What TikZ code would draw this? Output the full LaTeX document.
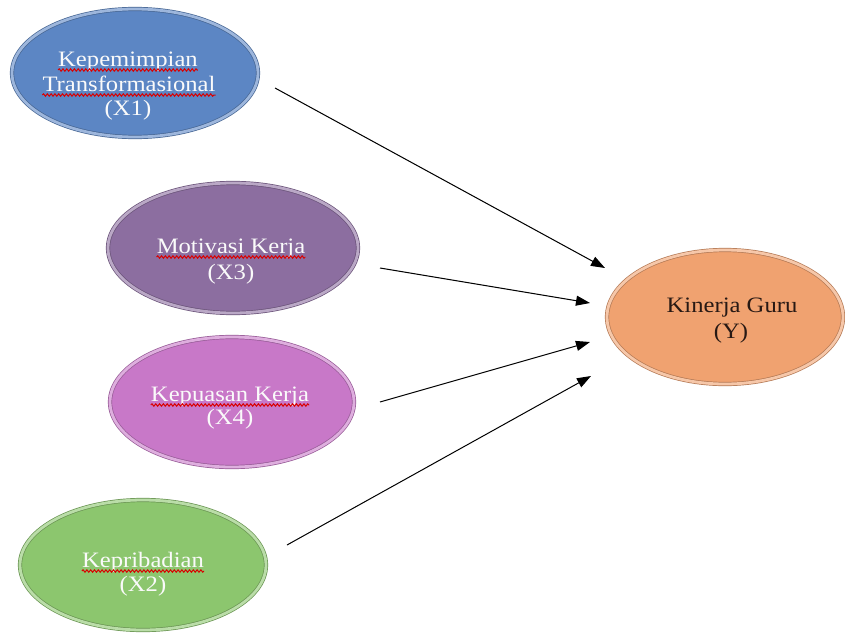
\documentclass[tikz,border=0pt]{standalone}
\usepackage{fontspec}
\usetikzlibrary{shapes.geometric,arrows.meta,decorations.pathmorphing}
\newfontfamily\lblfont[FakeStretch=1.12]{Liberation Serif}
\definecolor{cBlue}{RGB}{92,134,196}
\definecolor{cPurple}{RGB}{140,110,160}
\definecolor{cPink}{RGB}{200,120,200}
\definecolor{cGreen}{RGB}{140,198,110}
\definecolor{cOrange}{RGB}{240,162,112}
\definecolor{cDark}{RGB}{40,25,20}
\tikzset{
  oval/.style={ellipse, inner sep=0pt, fill=#1, draw=#1!75!black, line width=0.7pt,
    double=#1!60!white, double distance=2.8pt},
  lbl/.style={anchor=base, inner sep=0pt, font=\lblfont\fontsize{22}{24}\selectfont, text=white!96!gray},
  lbldark/.style={lbl, text=cDark},
  wave/.style={draw=red!85!black, line width=1pt, decorate,
    decoration={snake, segment length=3.8pt, amplitude=1.2pt}},
  conn/.style={draw=black, line width=1pt, -{Triangle[length=14pt,width=10pt]}}
}
\begin{document}
\begin{tikzpicture}[x=1pt,y=-1pt]
\path[use as bounding box, fill=white] (0,0) rectangle (845,632);

% ellipses
\node[oval=cBlue,   minimum width=246pt, minimum height=128pt] (x1) at (135,73) {};
\node[oval=cPurple, minimum width=250pt, minimum height=130pt] (x3) at (233,248) {};
\node[oval=cPink,   minimum width=244pt, minimum height=130pt] (x4) at (232,402) {};
\node[oval=cGreen,  minimum width=246pt, minimum height=130pt] (x2) at (143,565) {};
\node[oval=cOrange, minimum width=236pt, minimum height=134pt] (y)  at (725,317) {};

% labels
\node[lbl] (x1a) at (128,66) {Kepemimpian};
\node[lbl] (x1b) at (129,91) {Transformasional};
\node[lbl] (x1c) at (128,115) {(X1)};
\node[lbl] (x3a) at (231,253) {Motivasi Kerja};
\node[lbl] (x3b) at (231,279) {(X3)};
\node[lbl] (x4a) at (230,401) {Kepuasan Kerja};
\node[lbl] (x4b) at (230,424) {(X4)};
\node[lbl] (x2a) at (143,567) {Kepribadian};
\node[lbl] (x2b) at (143,591) {(X2)};
\node[lbldark] (ya) at (732,312) {Kinerja Guru};
\node[lbldark] (yb) at (731,338) {(Y)};

% spell-check squiggles
\foreach \t in {x1a,x1b,x3a,x4a,x2a}
  \draw[wave] ([yshift=-4pt]\t.base west) -- ([yshift=-4pt]\t.base east);

% connector end points
\coordinate (s1) at (275,88);  \coordinate (e1) at (605,268);
\coordinate (s3) at (380,268); \coordinate (e3) at (590,303);
\coordinate (s4) at (380,402); \coordinate (e4) at (590,342);
\coordinate (s2) at (287,545); \coordinate (e2) at (591,376);

\draw[conn] (s1) -- (e1);
\draw[conn] (s3) -- (e3);
\draw[conn] (s4) -- (e4);
\draw[conn] (s2) -- (e2);
\end{tikzpicture}
\end{document}
